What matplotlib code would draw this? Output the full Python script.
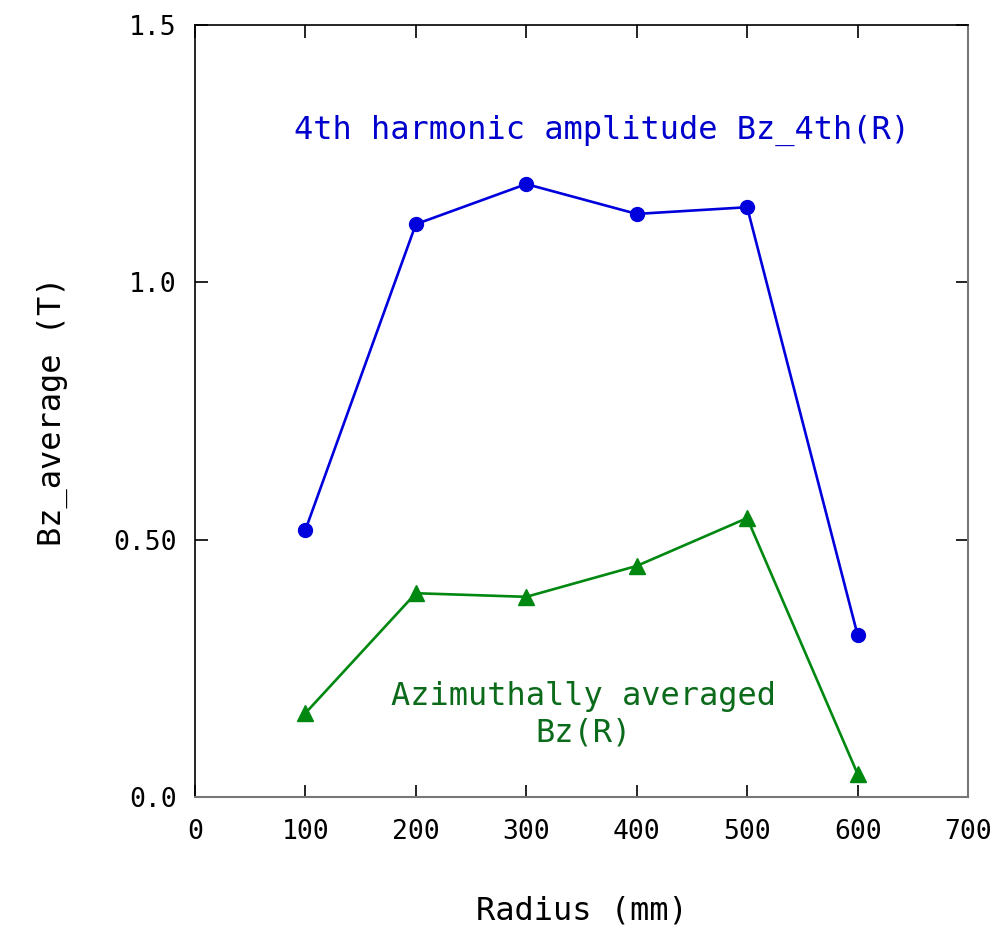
import numpy as np
import matplotlib.pyplot as plt

plt.rcParams['font.family'] = ['DejaVu Sans Mono']

# radius positions (mm)
radius = [100, 200, 300, 400, 500, 600]
# 4th harmonic amplitude (T)
bz_4th = [0.519, 1.113, 1.191, 1.133, 1.146, 0.315]
# azimuthal average (T)
bz_avg = [0.163, 0.396, 0.389, 0.449, 0.542, 0.045]

xticks = [0, 100, 200, 300, 400, 500, 600, 700]
yticks = [0.0, 0.5, 1.0, 1.5]
ytick_labels = ['0.0', '0.50', '1.0', '1.5']

fig = plt.figure(figsize=(10.03, 9.27), dpi=100)
ax = fig.add_axes([0.1944, 0.1402, 0.7707, 0.8328])

ax.plot(radius, bz_4th, color='#0000dd', lw=1.9, marker='o', ms=10)
ax.plot(radius, bz_avg, color='#008811', lw=1.9, marker='^', ms=11)

ax.text(369, 1.296, '4th harmonic amplitude Bz_4th(R)', color='#0000cc',
        fontsize=23, ha='center', va='center')
ax.text(352, 0.16, 'Azimuthally averaged\nBz(R)', color='#0b6b1b',
        fontsize=23, ha='center', va='center', linespacing=1.2)

ax.set_xlim(0, 700)
ax.set_ylim(0, 1.5)
ax.set_xticks(xticks)
ax.set_yticks(yticks)
ax.set_yticklabels(ytick_labels)
ax.tick_params(direction='in', length=9, width=1.2, labelsize=19,
               top=True, right=True)
ax.tick_params(axis='x', pad=16)
ax.tick_params(axis='y', pad=13)

for side in ['top', 'left']:
    ax.spines[side].set_color('black')
    ax.spines[side].set_linewidth(1.2)
for side in ['right', 'bottom']:
    ax.spines[side].set_color('#777777')
    ax.spines[side].set_linewidth(1.5)

ax.set_xlabel('Radius (mm)', fontsize=23, labelpad=36)
ax.set_ylabel('Bz_average (T)', fontsize=23, labelpad=33)

fig.savefig('out.png', dpi=100)
